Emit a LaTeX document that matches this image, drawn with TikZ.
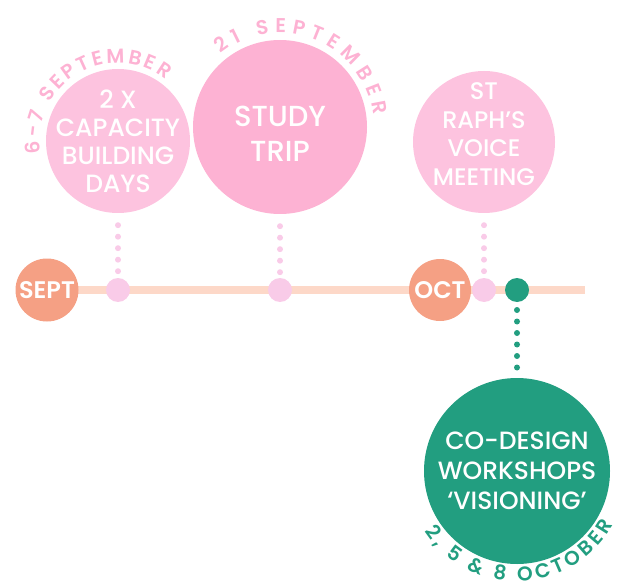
\documentclass[tikz,border=0pt]{standalone}
\usepackage{fontspec}
\setmainfont{Poppins}[UprightFont=* Medium, BoldFont=* SemiBold]
\usetikzlibrary{positioning,decorations.text,backgrounds}
\definecolor{blush}{HTML}{FDC3DF}
\definecolor{rose}{HTML}{FDB2D3}
\definecolor{lilac}{HTML}{F9CBE8}
\definecolor{peach}{HTML}{FDD8C8}
\definecolor{salmon}{HTML}{F5A084}
\definecolor{jade}{HTML}{229E80}
\newcommand{\arcfont}{\bfseries\fontsize{20}{20}\selectfont}
\tikzset{
  bubble/.style={circle, fill=#1, inner sep=0pt},
  bubbletext/.style={text=white, align=center, font=\fontsize{25}{28}\selectfont},
  month/.style={circle, fill=salmon, minimum size=63pt, inner sep=0pt,
                text=white, font=\bfseries\fontsize{24}{24}\selectfont},
  marker/.style={circle, fill=#1, minimum size=24pt, inner sep=0pt},
  dotline/.style={draw=#1, line width=6pt, line cap=round,
                  dash pattern=on 0pt off 11.5pt},
  arctext/.style={decorate, decoration={text along path, text align=fit to path,
                  text color=#1}},
}

\begin{document}
\begin{tikzpicture}[x=1pt,y=1pt]
  \useasboundingbox (0,0) rectangle (620,587);

  % Events
  \node[bubble=blush, minimum size=144pt] (cap) at (118,446) {};
  \node[bubbletext] (captext) at (cap.center) {2 X\\CAPACITY\\BUILDING\\DAYS};
  \node[bubble=rose, minimum size=174pt] (trip) at (280,460) {};
  \node[bubbletext, font=\fontsize{29}{35}\selectfont] (triptext)
        at ([yshift=-7pt]trip.center) {STUDY\\TRIP};
  \node[bubble=blush, minimum size=142pt] (voice) at (484,445) {};
  \node[bubbletext, font=\fontsize{24}{28.5}\selectfont] (voicetext)
        at ([yshift=8pt]voice.center) {ST\\RAPH’S\\VOICE\\MEETING};
  \node[bubble=jade, minimum size=186pt] (cod) at (517,116) {};
  \node[bubbletext, font=\fontsize{25}{30}\selectfont] (codtext)
        at (cod.center) {CO-DESIGN\\WORKSHOPS\\‘VISIONING’};

  % Timeline
  \node[month] (sept) at (47,297) {SEPT};
  \node[month, minimum size=62pt] (oct) at (440,297) {OCT};
  \coordinate (lineend) at (585,297);
  \node[marker=lilac] (d1) at (118,297) {};
  \node[marker=lilac] (d2) at (280,297) {};
  \node[marker=lilac] (d3) at (484,297) {};
  \node[marker=jade] (d4) at (517,297) {};

  \begin{scope}[on background layer]
    \draw[peach, line width=8pt] (sept.center) -- (lineend);
    \draw[dotline=lilac] ([yshift=-12pt]cap.south) -- (d1.center);
    \draw[dotline=lilac] ([yshift=-12pt]trip.south) -- (d2.center);
    \draw[dotline=lilac] ([yshift=-12pt]voice.south) -- (d3.center);
    \draw[dotline=jade] ([yshift=-20pt]d4.center) -- ([yshift=6pt]cod.north);
  \end{scope}

  % Dates round the bubbles
  \path[arctext=rose, decoration={text={|\arcfont|6-7 SEPTEMBER}}]
    (cap.center) ++(189:78) arc[start angle=189, end angle=52, radius=78];
  \path[arctext=rose, decoration={text={|\arcfont|21 SEPTEMBER}}]
    (trip.center) ++(129:94) arc[start angle=129, end angle=7, radius=94];
  \path[arctext=jade, decoration={text={|\arcfont|2, 5 {\&} 8 OCTOBER}}]
    (cod.center) ++(213:110) arc[start angle=213, end angle=331, radius=110];
\end{tikzpicture}
\end{document}
